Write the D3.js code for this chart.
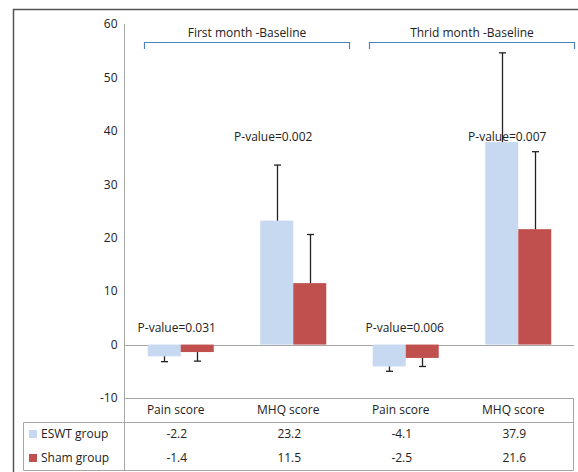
<!DOCTYPE html>
<html>
<head>
<meta charset="utf-8">
<script src="https://cdn.jsdelivr.net/npm/d3@7"></script>
<style>
  body { margin: 0; background: #fff; }
  text { font-family: "Open Sans", "Noto Sans", sans-serif; fill: #222; }
</style>
</head>
<body>
<script>
// data
var categories = ["Pain score", "MHQ score", "Pain score", "MHQ score"];
var eswt = [-2.2, 23.2, -4.1, 37.9];
var sham = [-1.4, 11.5, -2.5, 21.6];
var eswtErr = [1.0, 10.4, 0.9, 16.7];
var shamErr = [1.7, 9.1, 1.6, 14.5];
var pValues = ["P-value=0.031", "P-value=0.002", "P-value=0.006", "P-value=0.007"];
var periods = ["First month -Baseline", "Thrid month -Baseline"];
var seriesNames = ["ESWT group", "Sham group"];
var yTicks = [-10, 0, 10, 20, 30, 40, 50, 60];

var w = 578, h = 472;
var colors = ["#c6d9f1", "#c0504d"];
var grey = "#a6a6a6";

var svg = d3.select("body").append("svg")
    .attr("width", w)
    .attr("height", h);

//Scales
var y = d3.scaleLinear().domain([-10, 60]).range([398, 24]);
var x = d3.scaleBand().domain(d3.range(categories.length)).range([124.5, 574.5]);
var barW = 33;

//Outer frame (left + top)
svg.append("path")
    .attr("d", "M13.5," + h + "V9.5H" + w)
    .attr("fill", "none")
    .attr("stroke", "#555")
    .attr("stroke-width", 1.5);

//Y axis (plain hyphen for negatives, like the original)
var yAxis = d3.axisLeft(y)
    .tickValues(yTicks)
    .tickFormat(function(d) { return String(d); })
    .tickSize(0)
    .tickPadding(7);
var gy = svg.append("g")
    .attr("transform", "translate(124.5,0)")
    .call(yAxis);
gy.select(".domain").remove();
gy.selectAll("text").style("font-size", "12px").attr("fill", "#222");

svg.append("line")
    .attr("x1", 124.5).attr("x2", 124.5)
    .attr("y1", y(60)).attr("y2", 470.5)
    .attr("stroke", grey);

//zero line
svg.append("line")
    .attr("x1", 124.5).attr("x2", 574)
    .attr("y1", Math.round(y(0)) + 0.5).attr("y2", Math.round(y(0)) + 0.5)
    .attr("stroke", grey);

//Bars
var series = [eswt, sham];
var errs = [eswtErr, shamErr];
series.forEach(function(vals, s) {
    var bx = function(i) { return x(i) + x.bandwidth() / 2 - barW + s * barW; };
    svg.selectAll(".bar" + s)
        .data(vals)
        .enter()
        .append("rect")
        .attr("x", function(d, i) { return bx(i); })
        .attr("y", function(d) { return y(Math.max(0, d)); })
        .attr("width", barW)
        .attr("height", function(d) { return Math.abs(y(d) - y(0)); })
        .attr("fill", colors[s]);

    //error bars
    vals.forEach(function(d, i) {
        var cx = Math.round(bx(i) + barW / 2) + 0.5;
        var end = d >= 0 ? d + errs[s][i] : d - errs[s][i];
        svg.append("line")
            .attr("x1", cx).attr("x2", cx)
            .attr("y1", y(d)).attr("y2", y(end))
            .attr("stroke", "#222").attr("stroke-width", 1.3);
        svg.append("line")
            .attr("x1", cx - 3.5).attr("x2", cx + 3.5)
            .attr("y1", y(end)).attr("y2", y(end))
            .attr("stroke", "#222").attr("stroke-width", 1.3);
    });
});

//P-value labels
var pShift = [-4, -20, -1, -11];
svg.selectAll(".pval")
    .data(pValues)
    .enter()
    .append("text")
    .attr("x", function(d, i) { return x(i) + x.bandwidth() / 2 + pShift[i]; })
    .attr("y", function(d, i) { return i % 2 === 0 ? y(3.2) : y(38.9); })
    .attr("dy", "0.35em")
    .attr("text-anchor", "middle")
    .style("font-size", "12px")
    .text(function(d) { return d; });

//Period brackets
periods.forEach(function(p, k) {
    var x0 = x(k * 2) + 20, x1 = x(k * 2 + 1) + x.bandwidth();
    svg.append("path")
        .attr("d", "M" + x0 + ",49V42.5H" + x1 + "V49")
        .attr("fill", "none")
        .attr("stroke", "#4f81bd")
        .attr("stroke-width", 1.2);
    svg.append("text")
        .attr("x", (x0 + x1) / 2)
        .attr("y", 33)
        .attr("dy", "0.35em")
        .attr("text-anchor", "middle")
        .style("font-size", "12px")
        .text(p);
});

//Data table
var tl = 23.5, tr = 573.5;
var lines = [
    [124.5, 398.5, tr, 398.5],
    [tl, 422.5, tr, 422.5],
    [tl, 470.5, tr, 470.5],
    [tl, 422.5, tl, 470.5],
    [tr, 398.5, tr, 470.5]
];
lines.forEach(function(l) {
    svg.append("line")
        .attr("x1", l[0]).attr("y1", l[1]).attr("x2", l[2]).attr("y2", l[3])
        .attr("stroke", grey);
});

svg.selectAll(".cat")
    .data(categories)
    .enter()
    .append("text")
    .attr("x", function(d, i) { return x(i) + x.bandwidth() / 2 - 5; })
    .attr("y", 410)
    .attr("dy", "0.35em")
    .attr("text-anchor", "middle")
    .style("font-size", "12px")
    .text(function(d) { return d; });

var rowY = [434, 458];
series.forEach(function(vals, s) {
    svg.append("rect")
        .attr("x", 29).attr("y", rowY[s] - 4)
        .attr("width", 8).attr("height", 8)
        .attr("fill", colors[s]);
    svg.append("text")
        .attr("x", 41).attr("y", rowY[s])
        .attr("dy", "0.35em")
        .style("font-size", "12px")
        .text(seriesNames[s]);
    svg.selectAll(".val" + s)
        .data(vals)
        .enter()
        .append("text")
        .attr("x", function(d, i) { return x(i) + x.bandwidth() / 2 - 4; })
        .attr("y", rowY[s])
        .attr("dy", "0.35em")
        .attr("text-anchor", "middle")
        .style("font-size", "12px")
        .text(function(d) { return d.toFixed(1); });
});
</script>
</body>
</html>
